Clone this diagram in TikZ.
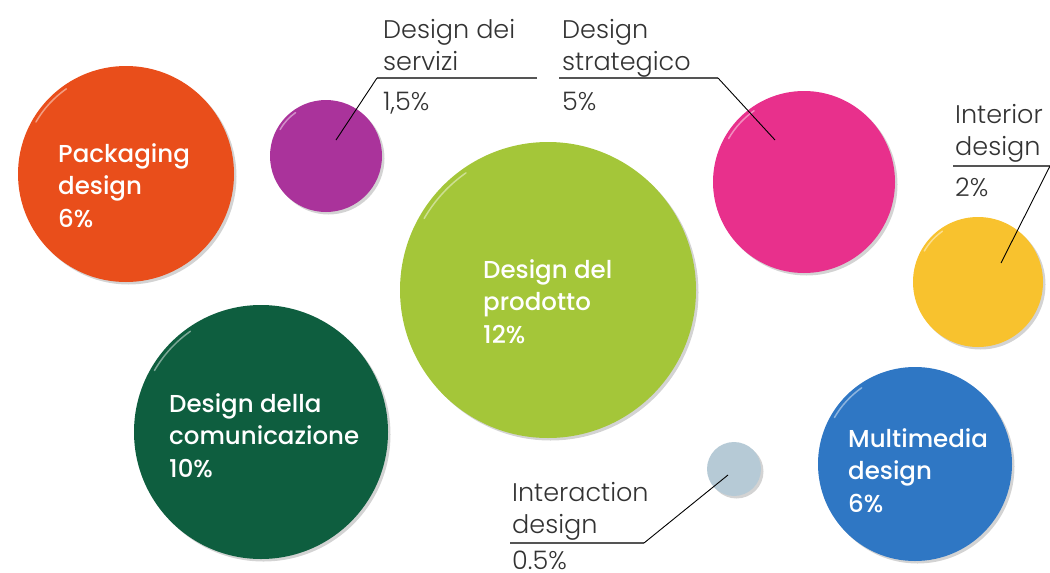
\documentclass[tikz,border=0pt]{standalone}
\usepackage{fontspec}
\setmainfont{Poppins}
\IfFontExistsTF{Poppins Light}{\newfontfamily\lblfont{Poppins Light}}{\newfontfamily\lblfont{Poppins}}
\IfFontExistsTF{Poppins Medium}{\newfontfamily\infont{Poppins Medium}}{\newfontfamily\infont{Poppins}}
\usetikzlibrary{shadows,calc}
\definecolor{cpack}{HTML}{E94E1B}
\definecolor{cserv}{HTML}{AA339B}
\definecolor{cprod}{HTML}{A4C639}
\definecolor{cstrat}{HTML}{E8308C}
\definecolor{cinter}{HTML}{F8C22E}
\definecolor{ccom}{HTML}{0E5E3F}
\definecolor{cmulti}{HTML}{2F77C4}
\definecolor{cixd}{HTML}{B6CAD6}
\definecolor{txtgray}{HTML}{333333}
\definecolor{linegray}{HTML}{555555}
\tikzset{
  disc/.style={circle, inner sep=0pt, draw=none, fill=#1,
    drop shadow={opacity=0.35, shadow xshift=2.5pt, shadow yshift=-2.5pt}},
  intext/.style={font=\infont\fontsize{24.5}{32.5}\selectfont, text=white, align=left, anchor=base west, inner sep=0pt},
  lbltext/.style={font=\lblfont\fontsize{25.5}{32}\selectfont, text=txtgray, align=left, anchor=base west, inner sep=0pt},
  uline/.style={draw=linegray, line width=1.4pt},
  leader/.style={draw=black, line width=0.9pt},
  gloss/.style={draw=white, opacity=0.45, line width=1.5pt, line cap=round}
}
\begin{document}
\begin{tikzpicture}[x=1pt, y=-1pt]
\useasboundingbox (0,0) rectangle (1050,573);
% discs
\node[disc=cpack,  minimum size=216pt] (pack)  at (126,174) {};
\node[disc=cserv,  minimum size=112pt] (serv)  at (326,156) {};
\node[disc=cprod,  minimum size=296pt] (prod)  at (548,290) {};
\node[disc=cstrat, minimum size=182pt] (strat) at (804,182) {};
\node[disc=cinter, minimum size=130pt] (inter) at (978,282) {};
\node[disc=ccom,   minimum size=254pt] (com)   at (261,432) {};
\node[disc=cmulti, minimum size=194pt] (multi) at (915,464) {};
\node[disc=cixd,   minimum size=54pt]  (ixd)   at (734,469) {};
% gloss highlights
\foreach \n/\r in {pack/104,serv/53,prod/143,strat/87,inter/62,com/123,multi/93}
  \draw[gloss] ($(\n.center)+(150:\r pt)$) arc[start angle=150, end angle=125, radius=\r pt];
% texts inside (anchor = baseline of last line)
\node[intext] (tpack)  at (58,227)  {Packaging\\design\\6\%};
\node[intext] (tprod)  at (483,343) {Design del\\prodotto\\12\%};
\node[intext] (tcom)   at (169,477) {Design della\\comunicazione\\10\%};
\node[intext] (tmulti) at (848,512) {Multimedia\\design\\6\%};
% outside labels
\node[lbltext] (lserv)  at (383,70)  {Design dei\\servizi};
\node[lbltext] (vserv)  at (383,110) {1,5\%};
\node[lbltext] (lstrat) at (562,70)  {Design\\strategico};
\node[lbltext] (vstrat) at (562,110) {5\%};
\node[lbltext] (linter) at (955,155) {Interior\\design};
\node[lbltext] (vinter) at (955,196) {2\%};
\node[lbltext] (lixd)   at (512,533) {Interaction\\design};
\node[lbltext, text depth=0pt] (vixd) at (512,569) {0.5\%};
% leader coordinates
\coordinate (servA) at (537,78);  \coordinate (servB) at (377,78);  \coordinate (servT) at (336,140);
\coordinate (stratA) at (559,78); \coordinate (stratB) at (718,78); \coordinate (stratT) at (775,140);
\coordinate (interA) at (953,166); \coordinate (interB) at (1050,166); \coordinate (interT) at (1001,263);
\coordinate (ixdA) at (510,543);  \coordinate (ixdB) at (644,543);  \coordinate (ixdT) at (728,475);
\draw[uline] (servA) -- (servB);
\draw[leader] (servB) -- (servT);
\draw[uline] (stratA) -- (stratB);
\draw[leader] (stratB) -- (stratT);
\draw[uline] (interA) -- (interB);
\draw[leader] (interB) -- (interT);
\draw[uline] (ixdA) -- (ixdB);
\draw[leader] (ixdB) -- (ixdT);
\end{tikzpicture}
\end{document}
